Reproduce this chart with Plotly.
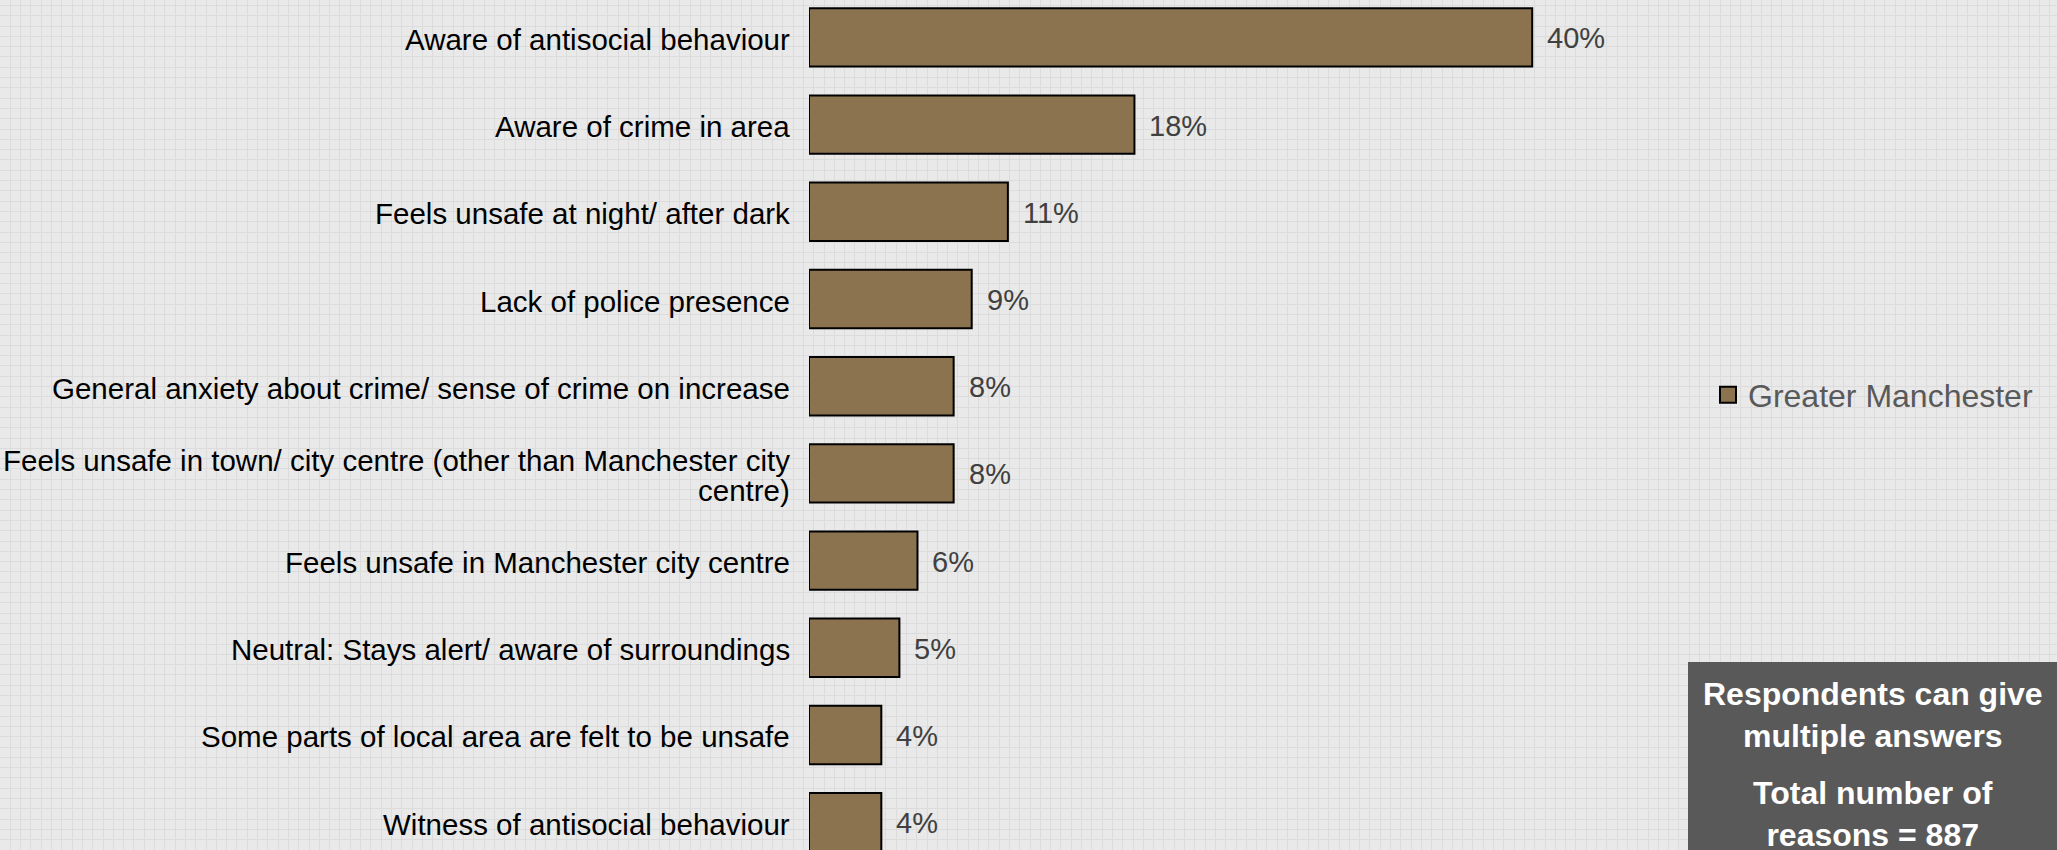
import plotly.graph_objects as go

# data
reasons = [
    "Aware of antisocial behaviour",
    "Aware of crime in area",
    "Feels unsafe at night/ after dark",
    "Lack of police presence",
    "General anxiety about crime/ sense of crime on increase",
    "Feels unsafe in town/ city centre (other than Manchester city<br>centre)",
    "Feels unsafe in Manchester city centre",
    "Neutral: Stays alert/ aware of surroundings",
    "Some parts of local area are felt to be unsafe",
    "Witness of antisocial behaviour",
]
pct = [40, 18, 11, 9, 8, 8, 6, 5, 4, 4]
series_name = "Greater Manchester"
note_1 = "Respondents can give<br>multiple answers"
note_2 = "Total number of<br>reasons = 887"

W, H = 2057, 850
BROWN = "#8b7350"
FONT = "Arial, Liberation Sans, sans-serif"

fig = go.Figure()

# empty trace so the full-page grid subplot (x/y) gets drawn
fig.add_trace(go.Scatter(x=[None], y=[None], showlegend=False, hoverinfo="skip"))

# bars live on x2/y2 so the page grid stays underneath them
fig.add_trace(go.Bar(
    x=pct, y=reasons, orientation="h",
    marker=dict(color=BROWN, line=dict(color="black", width=2)),
    xaxis="x2", yaxis="y2", showlegend=False, hoverinfo="skip",
))
# legend entry with a bigger square than the bar default
fig.add_trace(go.Scatter(
    x=[None], y=[None], mode="markers", name=series_name,
    marker=dict(symbol="square", size=16, color=BROWN, line=dict(color="black", width=2)),
    xaxis="x2", yaxis="y2",
))

# category labels (as annotations so wrapped lines sit tight) and value labels
for r, v in zip(reasons, pct):
    lines = r.split("<br>")
    n = len(lines)
    for i, ln in enumerate(lines):
        fig.add_annotation(x=0, y=r, xref="x2", yref="y2", text=ln,
                           showarrow=False, xanchor="right", yanchor="middle",
                           xshift=-17, yshift=(((n - 1) / 2) - i) * 30 - 2,
                           font=dict(size=29.5, color="black", family=FONT))
    fig.add_annotation(x=v, y=r, xref="x2", yref="y2", text=f"{v}%",
                       showarrow=False, xanchor="left", yanchor="middle", xshift=13,
                       yshift=-1,
                       font=dict(size=29, color="#404040", family=FONT))

# grey note box, bottom right
fig.add_shape(type="rect", xref="paper", yref="paper",
              x0=1688 / W, x1=1.01, y0=-0.05, y1=1 - 662 / H,
              fillcolor="#595959", line=dict(width=0))
fig.add_annotation(x=1873 / W, y=1 - 715 / H, xref="paper", yref="paper",
                   text=f"<b>{note_1}</b>", showarrow=False, align="center",
                   xanchor="center", yanchor="middle",
                   font=dict(size=32, color="white", family=FONT))
fig.add_annotation(x=1873 / W, y=1 - 814 / H, xref="paper", yref="paper",
                   text=f"<b>{note_2}</b>", showarrow=False, align="center",
                   xanchor="center", yanchor="middle",
                   font=dict(size=32, color="white", family=FONT))

x0_px = 809
fig.update_layout(
    width=W, height=H,
    margin=dict(l=0, r=0, t=0, b=0),
    paper_bgcolor="#e9e9e9",
    plot_bgcolor="rgba(0,0,0,0)",
    bargap=0.33,
    font=dict(family=FONT, color="black"),
    xaxis=dict(domain=[0, 1], range=[0, W], dtick=10.3, showgrid=True,
               gridcolor="#dcdcdc", gridwidth=1, showticklabels=False,
               zeroline=False, showline=False, fixedrange=True),
    yaxis=dict(domain=[0, 1], range=[0, H], dtick=10.3, showgrid=True,
               gridcolor="#dcdcdc", gridwidth=1, showticklabels=False,
               zeroline=False, showline=False, fixedrange=True),
    xaxis2=dict(domain=[x0_px / W, (x0_px + 45 * 18.08) / W], range=[0, 45],
                anchor="y2", showgrid=False, zeroline=False, showline=False,
                showticklabels=False),
    yaxis2=dict(domain=[0, 1], anchor="x2", type="category",
                categoryorder="array", categoryarray=reasons,
                range=[9.319, -0.429], showgrid=False, zeroline=False,
                showline=False, showticklabels=False, automargin=False),
    legend=dict(x=1708 / W, y=1 - 395 / H, xanchor="left", yanchor="middle",
                bgcolor="rgba(0,0,0,0)",
                font=dict(size=32, color="#595959", family=FONT)),
)

fig.write_html("out.html", config={"displayModeBar": False},
               post_script="document.body.style.margin='0';")
